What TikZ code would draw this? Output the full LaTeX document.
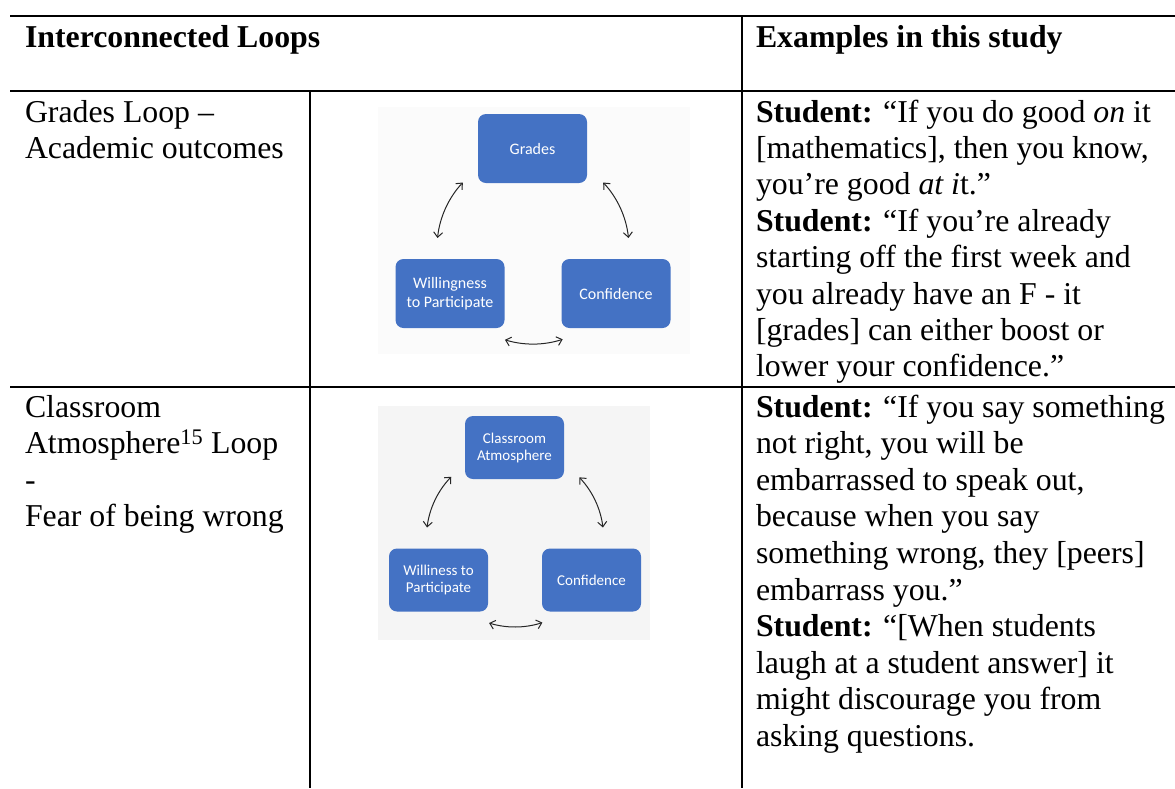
\documentclass[tikz,border=0pt]{standalone}
\usepackage{fontspec}
\setmainfont{Liberation Serif}
\newfontfamily\boxfont{Carlito}
\usetikzlibrary{arrows.meta,calc}
\definecolor{loopblue}{HTML}{4472C4}
\definecolor{picbgone}{HTML}{FBFBFB}
\definecolor{picbgtwo}{HTML}{F5F5F5}
\tikzset{
  rule/.style={line width=1.5pt, black},
  cell/.style={anchor=base west, inner sep=0pt, outer sep=0pt,
    font=\fontsize{31.8}{36.4}\selectfont},
  loopbox/.style={rectangle, fill=loopblue, rounded corners=8pt, text=white,
    align=center, inner sep=0pt, font=\boxfont\fontsize{16}{18.7}\selectfont},
  bigbox/.style={loopbox, minimum width=109pt, minimum height=69pt},
  smallbox/.style={loopbox, minimum width=99pt, minimum height=63pt,
    font=\boxfont\fontsize{15}{17}\selectfont},
  link/.style={line width=1pt, black!85,
    {Straight Barb[length=5pt,width=9pt]}-{Straight Barb[length=5pt,width=9pt]}},
}
% one table cell: lines set flush left, first baseline at the node's base
\newcommand{\celltext}[1]{\begin{tabular}[t]{@{}l@{}}#1\end{tabular}}
\begin{document}
\begin{tikzpicture}[x=1pt,y=-1pt]
\useasboundingbox[fill=white] (0,0) rectangle (1175,788);

% ---- table rules ----
\draw[rule] (10,16) -- (1175,16);
\draw[rule] (10,91) -- (1175,91);
\draw[rule] (10,387) -- (1175,387);
\draw[rule] (310,91) -- (310,788);
\draw[rule] (742,16) -- (742,788);

% ---- header ----
\node[cell, font=\fontsize{31.8}{36.4}\selectfont\bfseries] (hdloops) at (25,47) {Interconnected Loops};
\node[cell, font=\fontsize{31.8}{36.4}\selectfont\bfseries] (hdexamples) at (756,47) {Examples in this study};

% ---- row 1 ----
\node[cell] (rowonename) at (25,122) {\celltext{Grades Loop –\\Academic outcomes}};
\node[cell] (rowonequote) at (756,122) {\celltext{%
\textbf{Student:} “If you do good \textit{on} it\\
{[mathematics]}, then you know,\\
you’re good \textit{at i}t.”\\
\textbf{Student:} “If you’re already\\
starting off the first week and\\
you already have an F - it\\
{[grades]} can either boost or\\
lower your confidence.”}};

% ---- row 2 ----
\node[cell, font=\fontsize{31.8}{36.6}\selectfont] (rowtwoname) at (25,417) {\celltext{Classroom\\
Atmosphere\textsuperscript{15} Loop\\
-\\
Fear of being wrong}};
\node[cell, font=\fontsize{31.8}{36.6}\selectfont] (rowtwoquote) at (756,417) {\celltext{%
\textbf{Student:} “If you say something\\
not right, you will be\\
embarrassed to speak out,\\
because when you say\\
something wrong, they [peers]\\
embarrass you.”\\
\textbf{Student:} “[When students\\
laugh at a student answer] it\\
might discourage you from\\
asking questions.}};

% ---- grades loop figure ----
\fill[picbgone] (378,107) rectangle (690,354);
\node[bigbox] (grades) at (532.5,148.5) {Grades};
\node[bigbox] (willing) at (450,293.5) {Willingness\\to Participate};
\node[bigbox] (confid) at (616,293.5) {Confidence};
\coordinate (gcentre) at (533,248);
\coordinate (gleft) at ($(gcentre)+(223:96)$);
\coordinate (gright) at ($(gcentre)+(-43:96)$);
\coordinate (gbottom) at ($(gcentre)+(107:96)$);
\draw[link] (gleft) arc[start angle=223, end angle=186, radius=96];
\draw[link] (gright) arc[start angle=-43, end angle=-6, radius=96];
\draw[link] (gbottom) arc[start angle=107, end angle=72, radius=96];

% ---- classroom atmosphere loop figure ----
\fill[picbgtwo] (378,406) rectangle (650,640);
\node[smallbox] (atmos) at (514.5,447.5) {Classroom\\Atmosphere};
\node[smallbox] (williness) at (438.5,580) {Williness to\\Participate};
\node[smallbox] (confidtwo) at (591.5,580) {Confidence};
\coordinate (acentre) at (515,538.3);
\coordinate (aleft) at ($(acentre)+(224:88.6)$);
\coordinate (aright) at ($(acentre)+(-43.5:88.6)$);
\coordinate (abottom) at ($(acentre)+(107:88.6)$);
\draw[link] (aleft) arc[start angle=224, end angle=187, radius=88.6];
\draw[link] (aright) arc[start angle=-43.5, end angle=-7, radius=88.6];
\draw[link] (abottom) arc[start angle=107, end angle=72, radius=88.6];
\end{tikzpicture}
\end{document}
